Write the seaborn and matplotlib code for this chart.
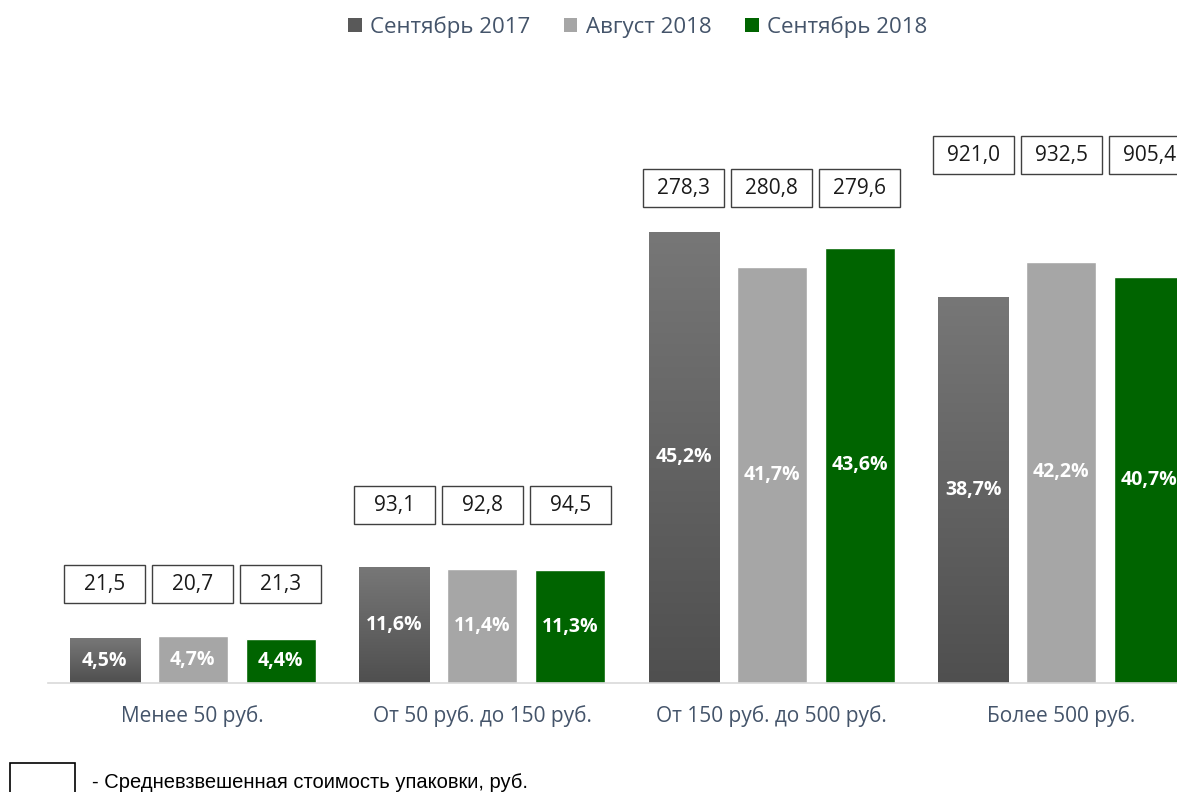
import numpy as np
import pandas as pd
import matplotlib
matplotlib.use("Agg")
import matplotlib.pyplot as plt
from matplotlib.patches import Rectangle, Patch
from matplotlib.colors import LinearSegmentedColormap
import seaborn as sns

# ---------------- data ----------------
categories = ['Менее 50 руб.', 'От 50 руб. до 150 руб.', 'От 150 руб. до 500 руб.', 'Более 500 руб.']
periods = ['Сентябрь 2017', 'Август 2018', 'Сентябрь 2018']
share_sep17 = [4.5, 11.6, 45.2, 38.7]
share_aug18 = [4.7, 11.4, 41.7, 42.2]
share_sep18 = [4.4, 11.3, 43.6, 40.7]
price_sep17 = [21.5, 93.1, 278.3, 921.0]
price_aug18 = [20.7, 92.8, 280.8, 932.5]
price_sep18 = [21.3, 94.5, 279.6, 905.4]
footnote = '- Средневзвешенная стоимость упаковки, руб.'

# ---------------- styling / layout ----------------
colors = ['#636363', '#A6A6A6', '#006400']
text_col = '#44546A'
price_label_level = [9.9, 17.8, 49.6, 52.9]   # vertical level of price boxes (layout)

sns.set_theme(style='white')
plt.rcParams['font.family'] = ['Open Sans', 'DejaVu Sans']

df = pd.DataFrame({
    'category': categories * 3,
    'period': sum([[p] * len(categories) for p in periods], []),
    'share': share_sep17 + share_aug18 + share_sep18,
})
prices = [price_sep17, price_aug18, price_sep18]
shares = [share_sep17, share_aug18, share_sep18]

W, H = 1177, 792
fig = plt.figure(figsize=(W / 100, H / 100), dpi=100)
ax = fig.add_axes([48 / W, (H - 683) / H, 1158 / W, 683 / H])

sns.barplot(data=df, x='category', y='share', hue='period', order=categories,
            hue_order=periods, palette=colors, width=0.912, gap=0.2,
            saturation=1, legend=False, ax=ax)

# gradient on the first series
grad = np.linspace(0, 1, 256).reshape(-1, 1)
gcmap = LinearSegmentedColormap.from_list('g', ['#4F4F4F', '#777777'])
for p in ax.containers[0]:
    x0, y0, w, h = p.get_x(), p.get_y(), p.get_width(), p.get_height()
    im = ax.imshow(grad, extent=[x0, x0 + w, y0, y0 + h], origin='lower',
                   cmap=gcmap, aspect='auto', zorder=p.get_zorder())
    im.set_clip_path(p)
ax.set_xlim(-0.5, 3.5)
ax.set_ylim(0, 68.44)

slot = 0.304
box_h = 3.8
for i, cont in enumerate(ax.containers):
    for j, p in enumerate(cont):
        xc = p.get_x() + p.get_width() / 2
        val = shares[i][j]
        ax.text(xc, val / 2, f'{val:.1f}%'.replace('.', ','), ha='center', va='center',
                color='white', fontsize=14, fontweight='bold', zorder=5)
        yb = price_label_level[j]
        ax.add_patch(Rectangle((xc - slot * 0.46, yb - box_h / 2), slot * 0.92, box_h,
                               facecolor='white', edgecolor='#404040', lw=1.0,
                               zorder=5, clip_on=False))
        ax.text(xc, yb, f'{prices[i][j]:.1f}'.replace('.', ','), ha='center', va='center',
                color='#1a1a1a', fontsize=15, zorder=6)

for s in ['top', 'left', 'right']:
    ax.spines[s].set_visible(False)
ax.spines['bottom'].set_color('#D9D9D9')
ax.spines['bottom'].set_linewidth(1.2)
ax.set_yticks([])
ax.set_xlabel('')
ax.set_ylabel('')
ax.set_xticks(range(len(categories)))
ax.set_xticklabels(categories, color=text_col, fontsize=15)
ax.tick_params(axis='x', length=0, pad=16)

handles = [Patch(facecolor=c, edgecolor='none') for c in ['#595959', colors[1], colors[2]]]
fig.legend(handles, periods, loc='center', bbox_to_anchor=(638 / W, 1 - 27 / H), ncol=3,
           frameon=False, handlelength=0.6, handleheight=0.6, handletextpad=0.4,
           columnspacing=1.5, fontsize=16, labelcolor=text_col)

fig.add_artist(Rectangle((10 / W, -0.02), 65 / W, (H - 763) / H + 0.02,
                         transform=fig.transFigure, fill=False, edgecolor='black', lw=1.2))
fig.text(92 / W, 1 - 782 / H, footnote, ha='left', va='center', fontsize=14.5,
         color='black', family=['Liberation Sans', 'DejaVu Sans'])

fig.savefig('out.png', dpi=100)
